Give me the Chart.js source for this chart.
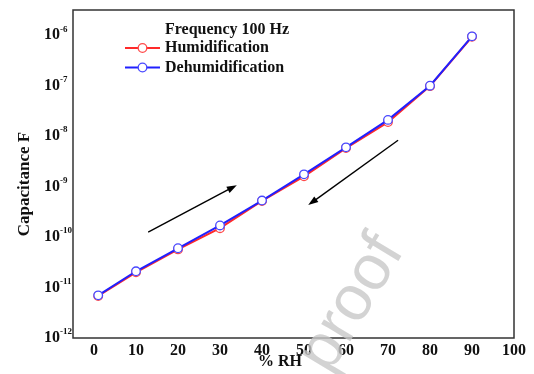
<!DOCTYPE html>
<html>
<head>
<meta charset="utf-8">
<script src="https://cdn.jsdelivr.net/npm/chart.js@4.4.0/dist/chart.umd.min.js"></script>
<style>
html,body{margin:0;padding:0;background:#fff;}
#wrap{width:534px;height:374px;}
</style>
</head>
<body>
<div id="wrap"><canvas id="c" width="534" height="374"></canvas></div>
<script>
const rh = [1, 10, 20, 30, 40, 50, 60, 70, 80, 90];
const humidification = [6.8e-12, 2.0e-11, 5.7e-11, 1.5e-10, 5.2e-10, 1.6e-9, 5.8e-9, 1.9e-8, 9.8e-8, 9.3e-7];
const dehumidification = [7.0e-12, 2.1e-11, 6.0e-11, 1.7e-10, 5.3e-10, 1.75e-9, 6.0e-9, 2.1e-8, 1.0e-7, 9.5e-7];
const xTicks = [0, 10, 20, 30, 40, 50, 60, 70, 80, 90, 100];
const yTicks = [1e-12, 1e-11, 1e-10, 1e-9, 1e-8, 1e-7, 1e-6];
const yTickBase = '10';
const yTickExponents = ['-12', '-11', '-10', '-9', '-8', '-7', '-6'];
const xTitle = '% RH';
const yTitle = 'Capacitance F';
const legendTitle = 'Frequency 100 Hz';
// arrows in data coordinates: [x0, y0, x1, y1]
const arrowUp = [12.9, 1.26e-10, 34, 1.07e-9];
const arrowDown = [72.4, 8.3e-9, 51, 4.3e-10];
const watermark = 'proof';

const serif = '"Liberation Serif", "Times New Roman", serif';

const extras = {
  id: 'extras',
  afterDatasetsDraw(chart) {
    const {ctx, chartArea: a, scales: {x, y}} = chart;
    ctx.save();
    // frame
    ctx.strokeStyle = '#333';
    ctx.lineWidth = 1.5;
    ctx.strokeRect(a.left, a.top, a.right - a.left, a.bottom - a.top);
    // y tick exponents
    ctx.font = 'bold 9px ' + serif;
    ctx.fillStyle = '#111';
    ctx.textAlign = 'left';
    ctx.textBaseline = 'middle';
    y.ticks.forEach((t, i) => {
      const py = y.getPixelForValue(t.value);
      ctx.fillText(yTickExponents[i], 60, py - 6);
    });
    // axis titles
    ctx.font = 'bold 16px ' + serif;
    ctx.textAlign = 'center';
    ctx.fillText(xTitle, 280, 362);
    ctx.save();
    ctx.translate(25, 184);
    ctx.rotate(-Math.PI / 2);
    ctx.font = 'bold 17px ' + serif;
    ctx.fillText(yTitle, 0, 0);
    ctx.restore();
    // arrows
    [arrowUp, arrowDown].forEach(ar => {
      const x0 = x.getPixelForValue(ar[0]), y0 = y.getPixelForValue(ar[1]);
      const x1 = x.getPixelForValue(ar[2]), y1 = y.getPixelForValue(ar[3]);
      const ang = Math.atan2(y1 - y0, x1 - x0);
      ctx.strokeStyle = '#000';
      ctx.fillStyle = '#000';
      ctx.lineWidth = 1.4;
      ctx.beginPath();
      ctx.moveTo(x0, y0);
      ctx.lineTo(x1 - 6 * Math.cos(ang), y1 - 6 * Math.sin(ang));
      ctx.stroke();
      ctx.beginPath();
      ctx.moveTo(x1, y1);
      ctx.lineTo(x1 - 10 * Math.cos(ang) + 3.5 * Math.sin(ang), y1 - 10 * Math.sin(ang) - 3.5 * Math.cos(ang));
      ctx.lineTo(x1 - 10 * Math.cos(ang) - 3.5 * Math.sin(ang), y1 - 10 * Math.sin(ang) + 3.5 * Math.cos(ang));
      ctx.closePath();
      ctx.fill();
    });
    // legend
    ctx.font = 'bold 16px ' + serif;
    ctx.textBaseline = 'middle';
    ctx.textAlign = 'left';
    ctx.fillStyle = '#111';
    ctx.fillText(legendTitle, 165, 30);
    const legendOrder = ['Humidification', 'Dehumidification'];
    legendOrder.forEach((lab, i) => {
      const ds = chart.data.datasets.find(d => d.label === lab);
      const yy = 48 + i * 19.5;
      ctx.strokeStyle = ds.borderColor;
      ctx.lineWidth = 2;
      ctx.beginPath();
      ctx.moveTo(125, yy);
      ctx.lineTo(160, yy);
      ctx.stroke();
      ctx.fillStyle = '#fff';
      ctx.strokeStyle = ds.pointBorderColor;
      ctx.lineWidth = 1.3;
      ctx.beginPath();
      ctx.arc(142.5, yy, 4.3, 0, Math.PI * 2);
      ctx.fill();
      ctx.stroke();
      ctx.fillStyle = '#111';
      ctx.fillText(ds.label, 165, yy);
    });
    ctx.restore();
  },
  afterDraw(chart) {
    const {ctx} = chart;
    ctx.save();
    ctx.translate(352, 304);
    ctx.rotate(-59 * Math.PI / 180);
    ctx.font = '64px "Liberation Sans", Arial, sans-serif';
    ctx.fillStyle = 'rgba(200,200,200,0.8)';
    ctx.textAlign = 'center';
    ctx.textBaseline = 'middle';
    ctx.fillText(watermark, 0, 0);
    ctx.restore();
  }
};

new Chart(document.getElementById('c'), {
  type: 'line',
  data: {
    datasets: [
      {
        label: 'Humidification',
        order: 2,
        data: rh.map((v, i) => ({x: v, y: humidification[i]})),
        borderColor: '#ff2a2a',
        backgroundColor: '#fff',
        borderWidth: 2,
        pointRadius: 4.3,
        pointBorderWidth: 1.3,
        pointBackgroundColor: '#fff',
        pointBorderColor: '#ff4a4a',
        tension: 0
      },
      {
        label: 'Dehumidification',
        order: 1,
        data: rh.map((v, i) => ({x: v, y: dehumidification[i]})),
        borderColor: '#2020ff',
        backgroundColor: '#fff',
        borderWidth: 2,
        pointRadius: 4.3,
        pointBorderWidth: 1.3,
        pointBackgroundColor: '#fff',
        pointBorderColor: '#4848ff',
        tension: 0
      }
    ]
  },
  options: {
    responsive: false,
    animation: false,
    devicePixelRatio: 1,
    layout: {padding: {left: 0, right: 20, top: 10, bottom: 0}},
    plugins: {legend: {display: false}, tooltip: {enabled: false}},
    scales: {
      x: {
        type: 'linear',
        min: -5,
        max: 100,
        afterBuildTicks: s => { s.ticks = xTicks.map(v => ({value: v})); },
        afterFit: s => { s.height = 36; s.paddingLeft = 0; s.paddingRight = 0; },
        grid: {display: false, drawTicks: false},
        border: {display: false},
        ticks: {
          color: '#111',
          padding: 3,
          maxRotation: 0,
          autoSkip: false,
          font: {family: serif, size: 16, weight: 'bold'}
        },
        title: {display: false}
      },
      y: {
        type: 'logarithmic',
        min: 1e-12,
        max: Math.pow(10, -5.5),
        afterBuildTicks: s => { s.ticks = yTicks.map(v => ({value: v})); },
        afterFit: s => { s.width = 73; s.paddingTop = 0; s.paddingBottom = 0; },
        grid: {display: false, drawTicks: false},
        border: {display: false},
        ticks: {
          color: '#111',
          padding: 13,
          autoSkip: false,
          font: {family: serif, size: 16, weight: 'bold'},
          callback: () => yTickBase
        },
        title: {display: false}
      }
    }
  },
  plugins: [extras]
});
</script>
</body>
</html>
